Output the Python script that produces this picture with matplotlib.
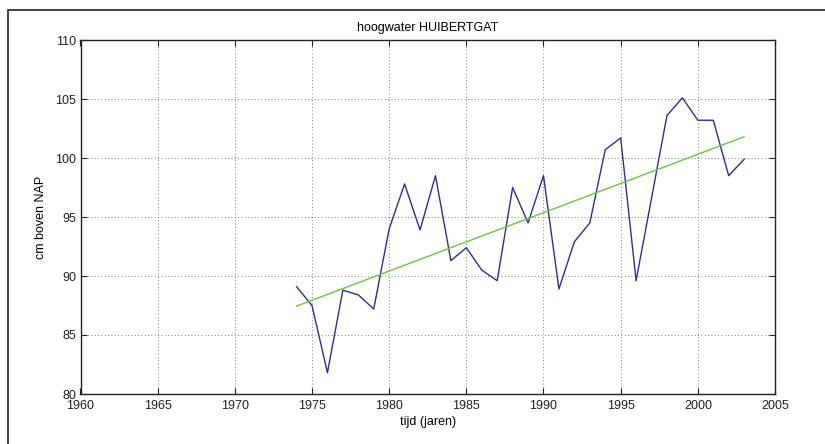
"""hoogwater HUIBERTGAT: yearly high water with linear trend."""

import matplotlib.pyplot as plt
from matplotlib.patches import Rectangle

plt.rcParams["font.family"] = ["Liberation Sans", "DejaVu Sans"]
plt.rcParams["font.size"] = 9

YEARS = list(range(1974, 2004))
HIGH_WATER = [89.1, 87.5, 81.8, 88.8, 88.4, 87.2, 94.0, 97.8, 93.9, 98.5,
              91.3, 92.4, 90.5, 89.6, 97.5, 94.5, 98.5, 88.9, 92.9, 94.5,
              100.7, 101.7, 89.6, 96.6, 103.6, 105.1, 103.2, 103.2, 98.5, 99.9]
TREND_YEARS = [1974, 2003]
TREND_VALUES = [87.45, 101.8]
X_TICKS = list(range(1960, 2006, 5))
Y_TICKS = list(range(80, 111, 5))

W, H = 825, 444
fig = plt.figure(figsize=(W / 100, H / 100), dpi=100)
fig.patches.append(Rectangle((8 / W, -0.1), 1.2, (H - 10) / H + 0.1,
                             transform=fig.transFigure, fill=False,
                             edgecolor="#222222", linewidth=1.2))

ax = fig.add_axes([80.5 / W, (H - 394) / H, (775 - 80.5) / W, (394 - 40) / H])
ax.plot(YEARS, HIGH_WATER, color="#2e2e99", linewidth=1.0)
ax.plot(TREND_YEARS, TREND_VALUES, color="#6cc444", linewidth=1.0)

ax.set_xlim(1960, 2005)
ax.set_ylim(80, 110)
ax.set_xticks(X_TICKS)
ax.set_yticks(Y_TICKS)
ax.tick_params(direction="in", length=4, width=0.8, top=True, right=True,
               labelsize=9, colors="#222222")
ax.tick_params(axis="x", pad=4.5)
ax.tick_params(axis="y", pad=3)
ax.grid(True, linestyle=(0, (1, 3)), color="#555555", linewidth=0.6)
for s in ax.spines.values():
    s.set_linewidth(1.0)
    s.set_color("#222222")

ax.set_title("hoogwater HUIBERTGAT", fontsize=9, pad=6.5)
ax.set_xlabel("tijd (jaren)", fontsize=9, labelpad=2.5)
ax.set_ylabel("cm boven NAP", fontsize=9, labelpad=6)

plt.savefig("out.png", dpi=100)
